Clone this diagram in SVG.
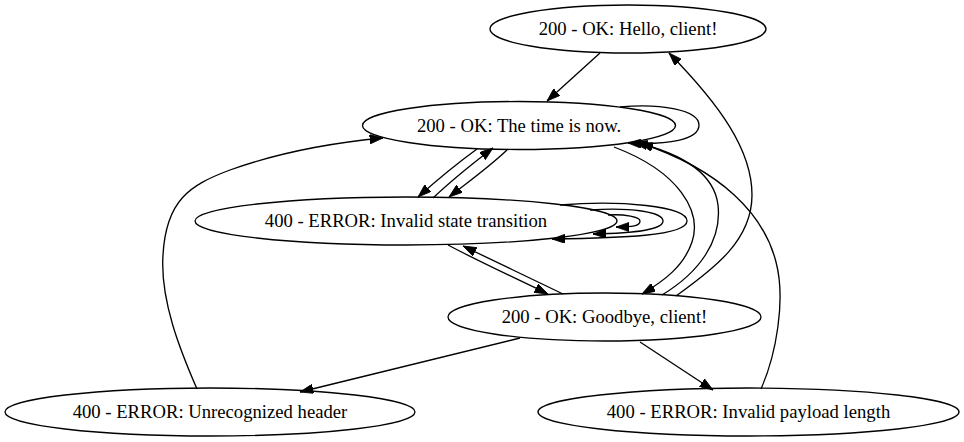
<svg xmlns="http://www.w3.org/2000/svg" width="964" height="442" viewBox="0 0 964 442">
<defs>
<style>
.node ellipse{fill:none;stroke:#000;stroke-width:1.33}
.node text{font-family:"Liberation Serif","Times New Roman",serif;font-size:18.67px;fill:#000;text-anchor:middle}
.edges path{fill:none;stroke:#000;stroke-width:1.33;marker-end:url(#ah)}
</style>
<marker id="ah" viewBox="0 0 10 7" refX="10" refY="3.5" markerWidth="13.3" markerHeight="9.3" markerUnits="userSpaceOnUse" orient="auto">
<path d="M0,0 L10,3.5 L0,7 z" fill="#000" stroke="#000" stroke-width="0.6"/>
</marker>
</defs>
<rect width="964" height="442" fill="#fff"/>
<g id="edges" class="edges">
<path d="M600,53 L547,101"/>
<path d="M620,107 C660,103 699,110 699,125 C699,140 668,145 628,143"/>
<path d="M477,149 C455,165 437,180 418,197"/>
<path d="M433,198 C452,180 472,164 493,148"/>
<path d="M507,150 C488,168 468,182 449,197"/>
<path d="M560,205 C620,200 687,206 687,221 C687,236 620,238 552,239"/>
<path d="M590,210 C630,207 663,212 663,221 C663,230 635,233 593,234"/>
<path d="M608,215 C625,214 640,217 640,221 C640,226 633,227 616,227"/>
<path d="M448,245 C480,262 515,278 548,294"/>
<path d="M563,294 C530,278 496,262 463,246"/>
<path d="M614,147 C680,172 702,212 692,242 C684,266 664,281 642,294"/>
<path d="M662,295 C700,272 722,240 718,205 C714,172 680,153 634,142"/>
<path d="M676,296 C715,268 752,240 752,195 C752,150 720,105 669,53"/>
<path d="M761,389 C776,355 786,300 776,262 C764,215 722,170 640,143"/>
<path d="M197,389 C180,350 160,300 163,255 C166,200 190,185 230,170 C280,152 330,143 383,138"/>
<path d="M520,338 L300,392"/>
<path d="M640,342 L713,390"/>
</g>
<g id="node-hello" class="node"><ellipse cx="628" cy="29" rx="138" ry="24"/><text x="628" y="35">200 - OK: Hello, client!</text></g>
<g id="node-time" class="node"><ellipse cx="519" cy="125.5" rx="156.5" ry="24"/><text x="519" y="131.5">200 - OK: The time is now.</text></g>
<g id="node-state" class="node"><ellipse cx="406" cy="221" rx="211" ry="24"/><text x="406" y="227">400 - ERROR: Invalid state transition</text></g>
<g id="node-goodbye" class="node"><ellipse cx="604.5" cy="317" rx="156.5" ry="24"/><text x="604.5" y="323">200 - OK: Goodbye, client!</text></g>
<g id="node-header" class="node"><ellipse cx="210" cy="412" rx="205" ry="24"/><text x="210" y="418">400 - ERROR: Unrecognized header</text></g>
<g id="node-payload" class="node"><ellipse cx="748.5" cy="412" rx="210.5" ry="24"/><text x="748.5" y="418">400 - ERROR: Invalid payload length</text></g>
</svg>
